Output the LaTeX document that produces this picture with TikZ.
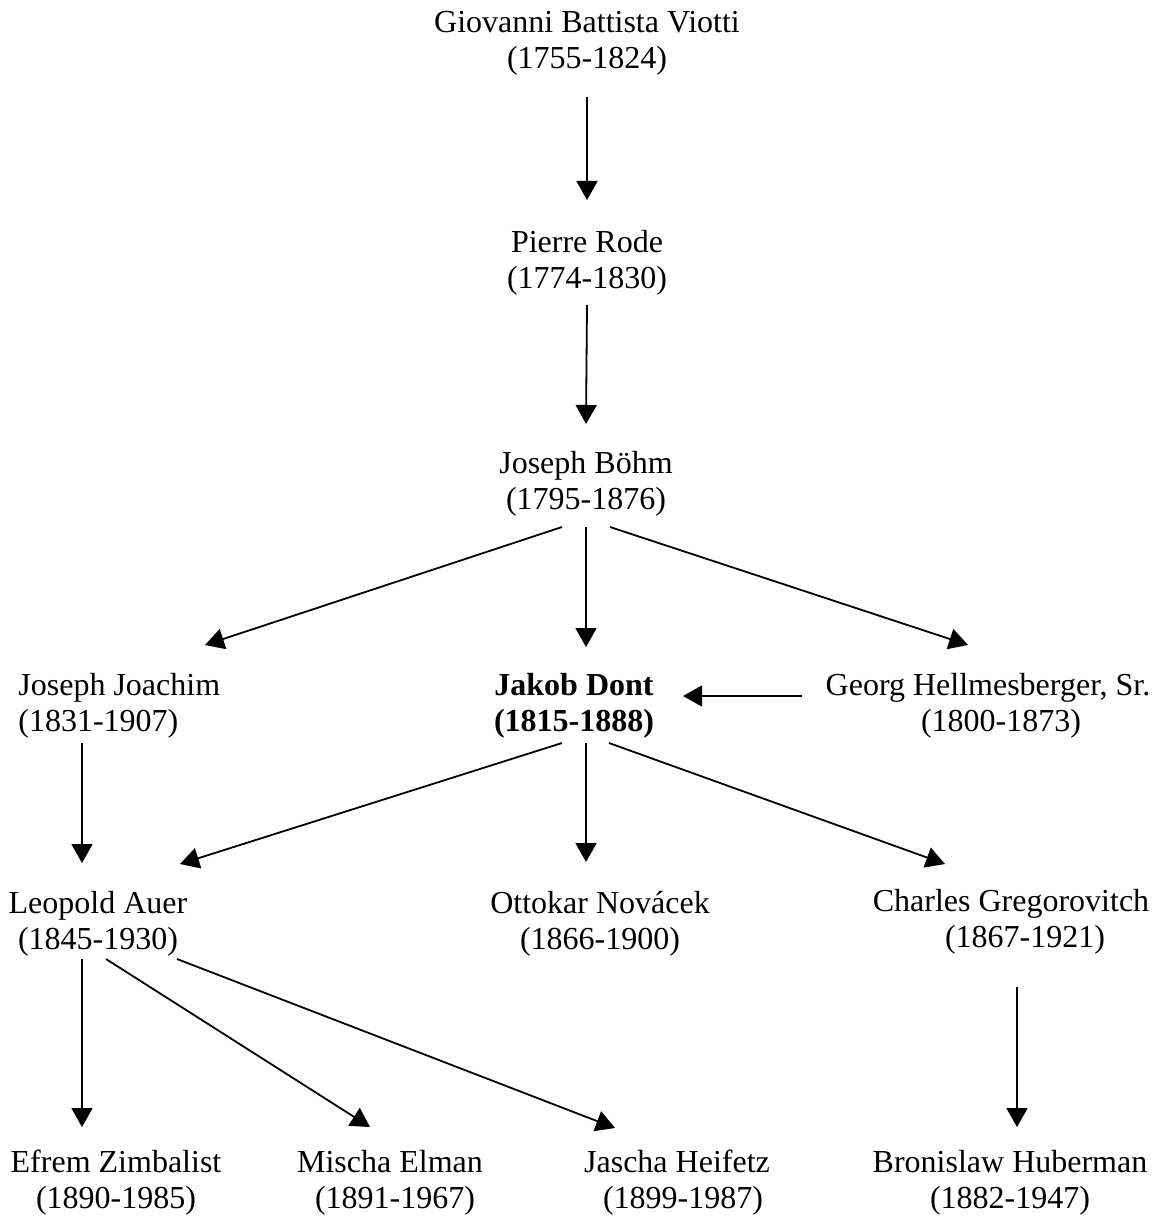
\documentclass[tikz,border=0pt]{standalone}
\usepackage{fontspec}
\setmainfont{Liberation Serif}
\usetikzlibrary{arrows.meta,calc}

\begin{document}
\begin{tikzpicture}[x=0.5pt,y=-0.5pt,
  person/.style={align=center,inner sep=0pt,font=\fontsize{16}{18}\selectfont},
  link/.style={-{Triangle[length=9.5pt,width=10.5pt]},line width=0.9pt}]
\useasboundingbox (0,0) rectangle (1161,1219);

\node[person] (viotti) at (587,43) {Giovanni Battista Viotti\\(1755-1824)};
\node[person] (rode) at (587,263) {Pierre Rode\\(1774-1830)};
\node[person] (boehm) at (586,484) {Joseph Böhm\\(1795-1876)};

\node[person,align=left,anchor=west] (joachim) at (18,706) {Joseph Joachim\\(1831-1907)};
\node[person,font=\fontsize{16}{18}\selectfont\bfseries] (dont) at (574,706) {Jakob Dont\\(1815-1888)};
\node[person] (hellm) at (988,706) {Georg Hellmesberger, Sr.\\\hspace*{13pt}(1800-1873)};

\node[person] (auer) at (98,924) {Leopold Auer\\(1845-1930)};
\node[person] (novacek) at (600,924) {Ottokar Novácek\\(1866-1900)};
\node[person] (gregor) at (1011,922) {Charles Gregorovitch\\\hspace*{14pt}(1867-1921)};

\node[person] (zimbalist) at (116,1183) {Efrem Zimbalist\\(1890-1985)};
\node[person] (elman) at (390,1183) {Mischa Elman\\\hspace*{5pt}(1891-1967)};
\node[person] (heifetz) at (677,1183) {Jascha Heifetz\\\hspace*{6pt}(1899-1987)};
\node[person] (huberman) at (1010,1183) {Bronislaw Huberman\\(1882-1947)};

\draw[link] ($(viotti)+(0,54)$) -- ($(rode)+(0,-63)$);
\draw[link] ($(rode)+(0,42)$) -- ($(boehm)+(0,-60)$);

\draw[link] ($(boehm)+(-24,43)$) -- ($(joachim.west)+(187,-61)$);
\draw[link] ($(boehm)+(0,43)$) -- ($(dont)+(12,-59)$);
\draw[link] ($(boehm)+(24,43)$) -- ($(hellm)+(-20,-61)$);
\draw[link] ($(hellm)+(-186,-10)$) -- ($(dont)+(109,-10)$);

\draw[link] ($(joachim.west)+(64,37)$) -- ($(auer)+(-16,-61)$);
\draw[link] ($(dont)+(-12,37)$) -- ($(auer)+(82,-60)$);
\draw[link] ($(dont)+(12,37)$) -- ($(novacek)+(-14,-62)$);
\draw[link] ($(dont)+(35,37)$) -- ($(gregor)+(-66,-58)$);

\draw[link] ($(auer)+(-16,35)$) -- ($(zimbalist)+(-34,-56)$);
\draw[link] ($(auer)+(8,35)$) -- ($(elman)+(-20,-56)$);
\draw[link] ($(auer)+(79,35)$) -- ($(heifetz)+(-62,-55)$);
\draw[link] ($(gregor)+(6,65)$) -- ($(huberman)+(7,-56)$);
\end{tikzpicture}
\end{document}
